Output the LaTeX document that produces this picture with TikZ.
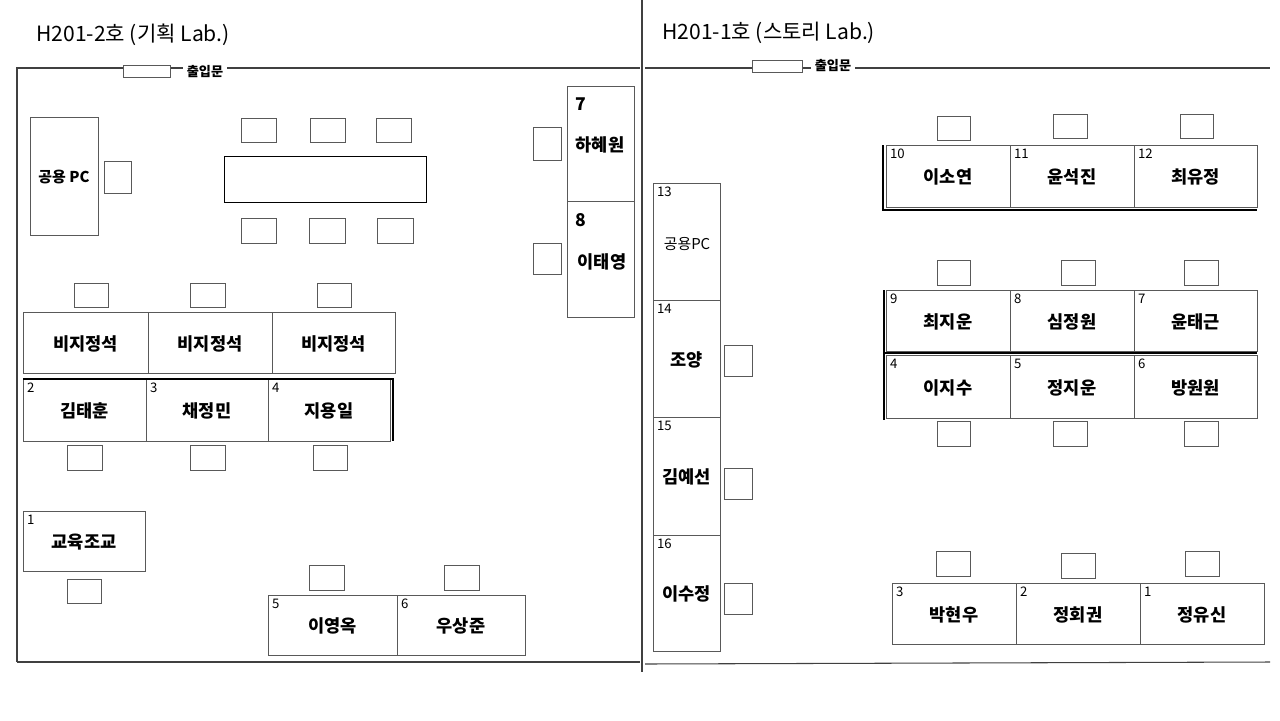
\documentclass[tikz,border=0pt]{standalone}
\usepackage{fontspec}
\setmainfont{Noto Sans CJK KR}
\begin{document}
\begin{tikzpicture}[x=0.02cm, y=-0.02cm,
        desk/.style={draw=black!65, line width=0.5pt},
        chair/.style={draw=black!65, line width=0.5pt},
        wall/.style={draw=black!75, line width=0.6pt},
        thickwall/.style={draw=black, line width=1.6pt},
        deskname/.style={font=\fontsize{10}{12}\selectfont\bfseries},
        desknum/.style={font=\fontsize{7.5}{9}\selectfont, anchor=north west, inner sep=1pt},
        roomtitle/.style={font=\fontsize{12}{14}\selectfont, anchor=west, inner sep=0pt},
        doorlabel/.style={font=\fontsize{7.5}{9}\selectfont\bfseries, fill=white, inner sep=2pt}
    ]
    \useasboundingbox (0,0) rectangle (1280,720);

    % desk: x1 y1 x2 y2 number name
    \newcommand{\desk}[6]{%
        \draw[desk] (#1,#2) rectangle (#3,#4);
        \node[desknum] at (#1+2,#2+2) {#5};
        \node[deskname] at ({(#1+#3)/2},{(#2+#4)/2+1}) {#6};}
    \newcommand{\chair}[4]{\draw[chair] (#1,#2) rectangle (#3,#4);}

    % walls
    \draw[wall] (642,0) -- (642,672);
    \draw[wall] (17,662) -- (17,68) -- (640,68);
    \draw[wall] (17,662) -- (640,662);
    \draw[wall] (645,68) -- (1270,68);
    \draw[wall] (645,664) -- (1270,662);

    % titles and doors
    \node[roomtitle] (title2) at (36,35) {H201-2호 (기획 Lab.)};
    \node[roomtitle] (title1) at (662,33) {H201-1호 (스토리 Lab.)};
    \draw[chair, fill=white] (123,65) rectangle (170,77);
    \node[doorlabel] (door2) at (205,72) {출입문};
    \draw[chair, fill=white] (752,60) rectangle (802,72);
    \node[doorlabel] (door1) at (833,66) {출입문};

    % H201-2
    \draw[desk] (30,117) rectangle (98,235);
    \node[font=\fontsize{8.5}{10}\selectfont\bfseries] (pc2) at (64,177) {공용 PC};
    \chair{104}{161}{131}{193}
    \draw[draw=black, line width=0.5pt] (224,156) rectangle (426,202);
    \chair{241}{118}{276}{142} \chair{310}{118}{345}{142} \chair{376}{118}{411}{142}
    \chair{241}{218}{276}{243} \chair{309}{218}{345}{243} \chair{377}{218}{413}{243}
    \draw[desk] (567,86) rectangle (634,317);
    \draw[desk] (567,201) -- (634,201);
    \node[deskname, anchor=north west] at (569,92) {7};
    \node[deskname] at (600,145) {하혜원};
    \node[deskname, anchor=north west] at (569,207) {8};
    \node[deskname] at (602,262) {이태영};
    \chair{533}{127}{561}{160} \chair{533}{243}{561}{274}
    \chair{74}{283}{108}{307} \chair{190}{283}{225}{307} \chair{317}{283}{351}{307}
    \desk{23}{312}{148}{373}{}{비지정석}
    \desk{148}{312}{272}{373}{}{비지정석}
    \desk{272}{312}{395}{373}{}{비지정석}
    \desk{23}{379}{146}{441}{2}{김태훈}
    \desk{146}{379}{268}{441}{3}{채정민}
    \desk{268}{379}{390}{441}{4}{지용일}
    \draw[thickwall] (23,379) -- (393,379) -- (393,441);
    \chair{67}{445}{102}{470} \chair{190}{445}{225}{470} \chair{313}{445}{347}{470}
    \desk{23}{511}{145}{571}{1}{교육조교}
    \chair{67}{579}{101}{603}
    \chair{309}{565}{344}{590} \chair{444}{565}{479}{590}
    \desk{268}{595}{397}{655}{5}{이영옥}
    \desk{397}{595}{525}{655}{6}{우상준}

    % H201-1
    \chair{937}{116}{970}{140} \chair{1053}{114}{1087}{138} \chair{1180}{114}{1213}{138}
    \desk{886}{145}{1010}{207}{10}{이소연}
    \desk{1010}{145}{1134}{207}{11}{윤석진}
    \desk{1134}{145}{1257}{207}{12}{최유정}
    \draw[thickwall] (883,145) -- (883,210) -- (1257,210);
    \chair{937}{260}{970}{285} \chair{1061}{260}{1095}{285} \chair{1184}{260}{1218}{285}
    \desk{886}{290}{1010}{351}{9}{최지운}
    \desk{1010}{290}{1134}{351}{8}{심정원}
    \desk{1134}{290}{1257}{351}{7}{윤태근}
    \desk{886}{355}{1010}{418}{4}{이지수}
    \desk{1010}{355}{1134}{418}{5}{정지운}
    \desk{1134}{355}{1257}{418}{6}{방원원}
    \draw[thickwall] (884,290) -- (884,420);
    \draw[thickwall] (884,353) -- (1257,353);
    \chair{937}{421}{970}{446} \chair{1053}{421}{1087}{446} \chair{1184}{421}{1218}{446}
    \draw[desk] (653,183) rectangle (720,300);
    \node[desknum] at (655,185) {13};
    \node[font=\fontsize{8.5}{10}\selectfont] (pc1) at (687,244) {공용PC};
    \desk{653}{300}{720}{417}{14}{조양}
    \desk{653}{417}{720}{535}{15}{김예선}
    \desk{653}{535}{720}{651}{16}{이수정}
    \chair{724}{345}{752}{376} \chair{724}{468}{752}{499} \chair{724}{583}{752}{614}
    \chair{936}{551}{970}{576} \chair{1061}{553}{1095}{578} \chair{1185}{551}{1219}{576}
    \desk{892}{583}{1016}{644}{3}{박현우}
    \desk{1016}{583}{1140}{644}{2}{정회권}
    \desk{1140}{583}{1264}{644}{1}{정유신}
\end{tikzpicture}
\end{document}
